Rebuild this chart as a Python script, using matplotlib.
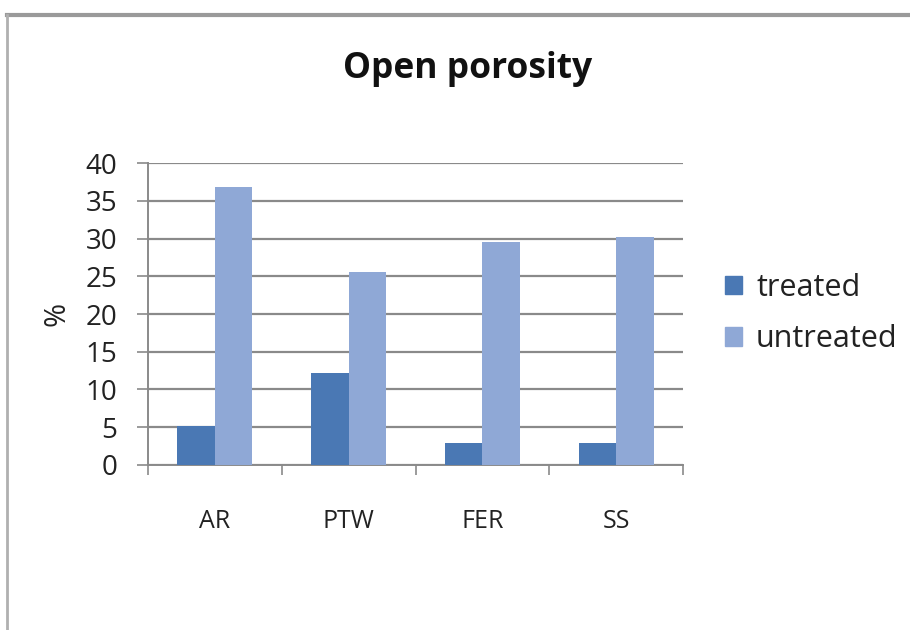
import numpy as np
import matplotlib.pyplot as plt
from matplotlib.patches import Rectangle
from matplotlib.lines import Line2D

samples = ["AR", "PTW", "FER", "SS"]
treated = [5.2, 12.2, 2.9, 2.9]
untreated = [36.9, 25.6, 29.6, 30.2]
yticks = [0, 5, 10, 15, 20, 25, 30, 35, 40]

c_treated = "#4a78b4"
c_untreated = "#8fa8d6"
grid_c = "#8a8a8a"

plt.rcParams['font.family'] = ['Open Sans', 'DejaVu Sans']

fig = plt.figure(figsize=(9.1, 6.3), dpi=100)
ax = fig.add_axes([0.1626, 0.262, 0.588, 0.479])

x = np.arange(len(samples))
w = 0.28
ax.bar(x - w / 2, treated, w, color=c_treated, label="treated", zorder=3)
ax.bar(x + w / 2, untreated, w, color=c_untreated, label="untreated", zorder=3)

ax.set_xlim(-0.5, len(samples) - 0.5)
ax.set_ylim(0, 40)
ax.set_yticks(yticks)
ax.yaxis.grid(True, color=grid_c, linewidth=1.6, zorder=0)
ax.tick_params(axis="y", labelsize=20, length=8, width=1.2, color=grid_c,
               pad=14, labelcolor="#222222")

# category labels in the middle, tick marks on the boundaries
ax.set_xticks(x)
ax.set_xticklabels(samples, fontsize=18, color="#222222")
ax.tick_params(axis="x", length=0, pad=32)
ax.set_xticks(np.arange(-0.5, len(samples)), minor=True)
ax.tick_params(axis="x", which="minor", length=7, width=1.2, color=grid_c)

for s in ["top", "right"]:
    ax.spines[s].set_visible(False)
for s in ["left", "bottom"]:
    ax.spines[s].set_color(grid_c)
    ax.spines[s].set_linewidth(1.4)

ax.set_ylabel("%", fontsize=21, labelpad=10, color="#222222")
fig.text(0.514, 0.876, "Open porosity", ha="center", va="baseline",
         fontsize=25.5, fontweight="bold", color="#111111")

handles = [Rectangle((0, 0), 1, 1, color=c_treated),
           Rectangle((0, 0), 1, 1, color=c_untreated)]
fig.legend(handles, ["treated", "untreated"], loc="center left",
           bbox_to_anchor=(0.767, 0.502), frameon=False, fontsize=22,
           handlelength=0.55, handleheight=0.55, handletextpad=0.45,
           labelspacing=0.7, labelcolor="#222222")

# chart border along top and left edges
fig.add_artist(Line2D([0.008, 1.0], [0.976, 0.976], color="#9a9a9a",
                      linewidth=3, transform=fig.transFigure))
fig.add_artist(Line2D([0.008, 0.008], [0.0, 0.976], color="#b0b0b0",
                      linewidth=2, transform=fig.transFigure))

fig.savefig("out.png", dpi=100)
